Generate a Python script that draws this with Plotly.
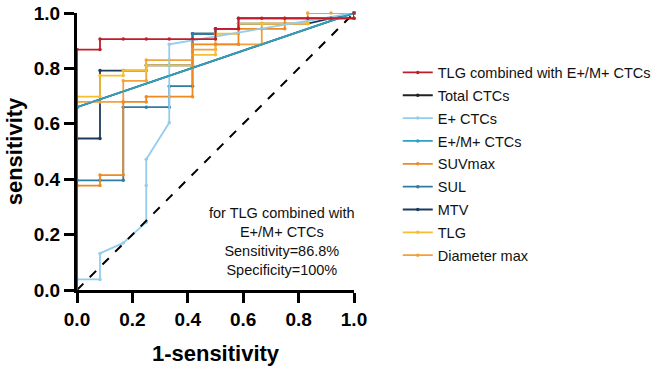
import plotly.graph_objects as go

# ---- data (1 - specificity, sensitivity) ----
red_fpr = [0, 0, 0.083, 0.083, 0.167, 0.25, 0.333, 0.417, 0.5, 0.5, 0.583, 0.583, 0.667, 0.75, 0.833, 0.917, 1, 1]
red_tpr = [0, 0.868, 0.868, 0.906, 0.906, 0.906, 0.906, 0.906, 0.906, 0.943, 0.943, 0.981, 0.981, 0.981, 0.981, 0.981, 0.981, 1]

total_fpr = [0, 0, 1]
total_tpr = [0, 0.660, 1]

ep_fpr = [0, 0, 0.083, 0.083, 0.167, 0.25, 0.25, 0.25, 0.333, 0.333, 1]
ep_tpr = [0, 0.038, 0.038, 0.132, 0.170, 0.245, 0.377, 0.472, 0.604, 0.887, 1]

epm_fpr = [0, 0, 1]
epm_tpr = [0, 0.660, 1]

suv_fpr = [0, 0, 0.083, 0.083, 0.167, 0.167, 0.25, 0.25, 0.333, 0.417, 0.417, 0.5, 0.583, 0.583, 0.667, 0.75, 0.75, 0.833, 0.917, 1, 1]
suv_tpr = [0, 0.377, 0.377, 0.415, 0.415, 0.679, 0.679, 0.698, 0.698, 0.698, 0.887, 0.887, 0.887, 0.943, 0.943, 0.943, 0.981, 0.981, 0.981, 0.981, 1]

sul_fpr = [0, 0, 0.083, 0.167, 0.167, 0.25, 0.333, 0.333, 0.417, 0.417, 0.5, 0.5, 0.583, 0.583, 1, 1]
sul_tpr = [0, 0.396, 0.396, 0.396, 0.660, 0.660, 0.660, 0.736, 0.736, 0.925, 0.925, 0.943, 0.943, 0.981, 0.981, 1]

mtv_fpr = [0, 0, 0.083, 0.083, 0.167, 0.25, 0.25, 0.333, 0.417, 0.417, 0.5, 0.5, 0.583, 0.583, 0.667, 0.75, 0.833, 1]
mtv_tpr = [0, 0.547, 0.547, 0.792, 0.792, 0.792, 0.811, 0.811, 0.811, 0.925, 0.925, 0.943, 0.943, 0.962, 0.962, 0.962, 0.962, 1]

tlg_fpr = [0, 0, 0.083, 0.083, 0.167, 0.167, 0.25, 0.25, 0.333, 0.417, 0.417, 0.5, 0.5, 0.583, 0.583, 0.667, 0.75, 0.833, 0.833, 0.917, 1, 1]
tlg_tpr = [0, 0.698, 0.698, 0.774, 0.774, 0.792, 0.792, 0.811, 0.811, 0.811, 0.849, 0.849, 0.925, 0.925, 0.962, 0.962, 0.962, 0.962, 0.981, 0.981, 0.981, 1]

dia_fpr = [0, 0, 0.083, 0.167, 0.167, 0.25, 0.25, 0.333, 0.417, 0.417, 0.5, 0.5, 0.583, 0.667, 0.667, 0.75, 0.833, 0.833, 0.917, 1]
dia_tpr = [0, 0.679, 0.679, 0.679, 0.755, 0.755, 0.830, 0.830, 0.830, 0.868, 0.868, 0.887, 0.887, 0.887, 0.962, 0.962, 0.962, 1, 1, 1]

ref_x = [0, 1]
ref_y = [0, 1]

series = [
    # name, fpr, tpr, color, legend rank  (listed bottom -> top drawing order)
    ("Total CTCs", total_fpr, total_tpr, "#222222", 2),
    ("MTV", mtv_fpr, mtv_tpr, "#1D3B5C", 7),
    ("SUL", sul_fpr, sul_tpr, "#2E7CA1", 6),
    ("Diameter max", dia_fpr, dia_tpr, "#F2A23A", 9),
    ("TLG", tlg_fpr, tlg_tpr, "#F6BE30", 8),
    ("SUVmax", suv_fpr, suv_tpr, "#EE8A22", 5),
    ("E+ CTCs", ep_fpr, ep_tpr, "#93CDEB", 3),
    ("E+/M+ CTCs", epm_fpr, epm_tpr, "#2DA2C2", 4),
]

FONT = "Arial, 'Liberation Sans', sans-serif"

fig = go.Figure()
for name, fx, fy, col, rank in series:
    fig.add_trace(go.Scatter(
        x=fx, y=fy, mode="lines+markers", name=name,
        line=dict(color=col, width=1.8),
        marker=dict(color=col, size=3.5),
        cliponaxis=False, legendrank=rank, legendgroup=name,
    ))

fig.add_trace(go.Scatter(
    x=ref_x, y=ref_y, mode="lines", showlegend=False,
    line=dict(color="black", width=2, dash="dash"), cliponaxis=False,
))

fig.add_trace(go.Scatter(
    x=red_fpr, y=red_tpr, mode="lines+markers", name="TLG combined with E+/M+ CTCs",
    line=dict(color="#BE1E2D", width=1.8),
    marker=dict(color="#BE1E2D", size=3.5),
    cliponaxis=False, legendrank=1, legendgroup="red",
))

fig.add_annotation(
    x=0.74, y=0.175, xref="paper", yref="paper", xanchor="center", yanchor="middle",
    text="for TLG combined with<br>E+/M+ CTCs<br>Sensitivity=86.8%<br>Specificity=100%",
    showarrow=False, align="center",
    font=dict(family=FONT, size=14.5, color="#111111"),
)

axis_common = dict(
    range=[0, 1], tickvals=[0, 0.2, 0.4, 0.6, 0.8, 1.0],
    ticktext=["0.0", "0.2", "0.4", "0.6", "0.8", "1.0"],
    showgrid=False, zeroline=False, showline=True, linecolor="black", linewidth=3,
    ticks="outside", ticklen=10, tickwidth=3, tickcolor="black",
    tickfont=dict(family=FONT, size=19, color="black", weight="bold"),
    automargin=False, ticklabeloverflow="allow",
)

fig.update_layout(
    width=664, height=369,
    margin=dict(l=77, r=310, t=13, b=79, autoexpand=False),
    paper_bgcolor="white", plot_bgcolor="white",
    xaxis=dict(**axis_common, title=dict(text="1-sensitivity", standoff=17,
               font=dict(family=FONT, size=22, color="black", weight="bold"))),
    yaxis=dict(**axis_common, title=dict(text="sensitivity", standoff=6,
               font=dict(family=FONT, size=22, color="black", weight="bold"))),
    legend=dict(x=1.158, y=0.843, xanchor="left", yanchor="top",
                font=dict(family=FONT, size=14.5, color="#111111"),
                traceorder="grouped", tracegroupgap=1,
                bgcolor="rgba(0,0,0,0)"),
    showlegend=True,
)

# remove the browser's default 8px page margin so the figure fills the window
fig.write_html("out.html", config={"displayModeBar": False},
               post_script="document.body.style.margin='0';")
